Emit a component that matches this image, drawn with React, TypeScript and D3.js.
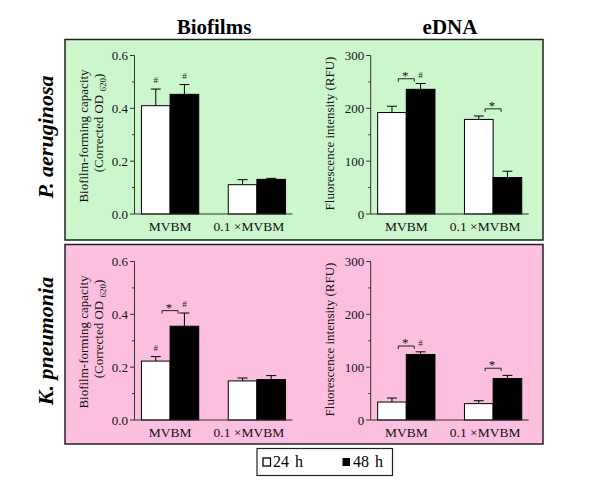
import * as d3 from "d3";

const FONT = "Liberation Serif, DejaVu Serif, Times New Roman, serif";

const groups = ["MVBM", "0.1 ×MVBM"];
const seriesNames = ["24 h", "48 h"];

// P. aeruginosa - biofilms
const paBioMean24 = [0.41, 0.111];
const paBioErr24 = [0.063, 0.019];
const paBioMean48 = [0.453, 0.131];
const paBioErr48 = [0.037, 0.004];
const paBioHash24 = [true, false];
const paBioHash48 = [true, false];
const paBioStar: (number | null)[] = [null, null];

// P. aeruginosa - eDNA
const paDnaMean24 = [192, 179];
const paDnaErr24 = [12, 6.5];
const paDnaMean48 = [236, 69];
const paDnaErr48 = [11, 12];
const paDnaHash24 = [false, false];
const paDnaHash48 = [true, false];
const paDnaStar: (number | null)[] = [256, 199];

// K. pneumonia - biofilms
const kpBioMean24 = [0.223, 0.148];
const kpBioErr24 = [0.017, 0.011];
const kpBioMean48 = [0.355, 0.153];
const kpBioErr48 = [0.05, 0.015];
const kpBioHash24 = [true, false];
const kpBioHash48 = [true, false];
const kpBioStar: (number | null)[] = [0.414, null];

// K. pneumonia - eDNA
const kpDnaMean24 = [34, 31];
const kpDnaErr24 = [7.5, 5.5];
const kpDnaMean48 = [124, 78.5];
const kpDnaErr48 = [5, 6];
const kpDnaHash24 = [false, false];
const kpDnaHash48 = [true, false];
const kpDnaStar: (number | null)[] = [140, 98];

const bioTicks = [0, 0.2, 0.4, 0.6];
const dnaTicks = [0, 100, 200, 300];

type ChartProps = {
  axisX: number;
  zeroY: number;
  ticks: number[];
  fmt: (v: number) => string;
  mean24: number[];
  err24: number[];
  mean48: number[];
  err48: number[];
  hash24: boolean[];
  hash48: boolean[];
  star: (number | null)[];
  kind: "bio" | "dna";
};

function BarChart(p: ChartProps) {
  const h = 158.5;
  const max = p.ticks[p.ticks.length - 1];
  const step = p.ticks[1] - p.ticks[0];
  const y = d3.scaleLinear().domain([0, max]).range([p.zeroY, p.zeroY - h]);
  const x = d3
    .scaleBand()
    .domain(groups)
    .range([p.axisX, p.axisX + 158])
    .paddingInner(0.34)
    .paddingOuter(0.08);
  const sub = d3.scaleBand().domain(seriesNames).range([0, x.bandwidth()]);
  const minor = d3.range(step / 2, max, step);

  const series = [
    { name: seriesNames[0], mean: p.mean24, err: p.err24, hash: p.hash24, fill: "#ffffff" },
    { name: seriesNames[1], mean: p.mean48, err: p.err48, hash: p.hash48, fill: "#000000" },
  ];

  return (
    <g>
      {series.map((s) =>
        groups.map((g, i) => {
          const bx = x(g)! + sub(s.name)!;
          const cx = bx + sub.bandwidth() / 2;
          const top = y(s.err[i] + s.mean[i]);
          return (
            <g key={s.name + g}>
              <line x1={cx} x2={cx} y1={y(s.mean[i])} y2={top} stroke="#000" strokeWidth={1} />
              <line x1={cx - 5} x2={cx + 5} y1={top} y2={top} stroke="#000" strokeWidth={1} />
              <rect
                x={bx}
                y={y(s.mean[i])}
                width={sub.bandwidth()}
                height={p.zeroY - y(s.mean[i])}
                fill={s.fill}
                stroke="#000"
                strokeWidth={1}
              />
              {s.hash[i] && (
                <text x={cx} y={top - 6} fontSize={9} textAnchor="middle" fill="#222">
                  #
                </text>
              )}
            </g>
          );
        })
      )}
      {groups.map((g, i) => {
        const lvl = p.star[i];
        if (lvl == null) return null;
        const cx = x(g)! + x.bandwidth() / 2;
        const by = y(lvl);
        return (
          <g key={"star" + g}>
            <path
              d={`M${cx - 8},${by + 3}V${by}H${cx + 8}V${by + 3}`}
              fill="none"
              stroke="#222"
              strokeWidth={1}
            />
            <text x={cx - 1} y={by + 1} fontSize={13} textAnchor="middle" fill="#111">
              *
            </text>
          </g>
        );
      })}
      {/* axes */}
      <line x1={p.axisX} x2={p.axisX} y1={p.zeroY} y2={p.zeroY - h} stroke="#333" />
      <line x1={p.axisX} x2={p.axisX + 158} y1={p.zeroY} y2={p.zeroY} stroke="#333" />
      {p.ticks.map((t) => (
        <g key={t}>
          <line x1={p.axisX - 4.5} x2={p.axisX} y1={y(t)} y2={y(t)} stroke="#333" />
          <text
            x={p.axisX - 6.5}
            y={y(t)}
            dy="0.35em"
            fontSize={13}
            textAnchor="end"
            fill="#111"
          >
            {p.fmt(t)}
          </text>
        </g>
      ))}
      {minor.map((t) => (
        <line key={t} x1={p.axisX - 2.5} x2={p.axisX} y1={y(t)} y2={y(t)} stroke="#333" />
      ))}
      {groups.map((g, i) => (
        <text
          key={g}
          x={x(g)! + x.bandwidth() / 2}
          dx={i === 1 ? -8 : 0}
          y={p.zeroY + 17}
          fontSize={13.5}
          textAnchor="middle"
          fill="#111"
        >
          {g}
        </text>
      ))}
      {p.kind === "bio" ? (
        <g>
          <text
            transform={`translate(${p.axisX - 47},${p.zeroY - 78}) rotate(-90)`}
            fontSize={13}
            textAnchor="middle"
            fill="#111"
          >
            Biofilm-forming capacity
          </text>
          <text
            transform={`translate(${p.axisX - 32},${p.zeroY - 91}) rotate(-90)`}
            fontSize={13}
            textAnchor="middle"
            fill="#111"
          >
            (Corrected OD{" "}
            <tspan fontSize={9} dy={3}>
              620
            </tspan>
            <tspan dy={-3}>)</tspan>
          </text>
        </g>
      ) : (
        <text
          transform={`translate(${p.axisX - 37},${p.zeroY - 80.5}) rotate(-90)`}
          fontSize={13}
          textAnchor="middle"
          fill="#111"
        >
          Fluorescence intensity (RFU)
        </text>
      )}
    </g>
  );
}

const fmtBio = d3.format(".1f");
const fmtDna = d3.format("d");

export default function App() {
  return (
    <svg
      width={600}
      height={486}
      style={{ position: "absolute", left: 0, top: 0, background: "#fff", fontFamily: FONT }}
    >
      <rect x={65} y={39.5} width={478} height={200.5} fill="#ccf7cc" stroke="#222" strokeWidth={1.5} />
      <rect x={65} y={244.5} width={478} height={199.5} fill="#fdbfe0" stroke="#222" strokeWidth={1.5} />

      <text x={214} y={34} fontSize={21} fontWeight="bold" textAnchor="middle">
        Biofilms
      </text>
      <text x={450} y={34} fontSize={21} fontWeight="bold" textAnchor="middle">
        eDNA
      </text>

      <text
        transform="translate(53,137) rotate(-90)"
        fontSize={22}
        fontWeight="bold"
        fontStyle="italic"
        textAnchor="middle"
      >
        P. aeruginosa
      </text>
      <text
        transform="translate(53,341) rotate(-90)"
        fontSize={22}
        fontWeight="bold"
        fontStyle="italic"
        textAnchor="middle"
      >
        K. pneumonia
      </text>

      <BarChart
        axisX={134.5}
        zeroY={214}
        ticks={bioTicks}
        fmt={fmtBio}
        mean24={paBioMean24}
        err24={paBioErr24}
        mean48={paBioMean48}
        err48={paBioErr48}
        hash24={paBioHash24}
        hash48={paBioHash48}
        star={paBioStar}
        kind="bio"
      />
      <BarChart
        axisX={370.7}
        zeroY={214}
        ticks={dnaTicks}
        fmt={fmtDna}
        mean24={paDnaMean24}
        err24={paDnaErr24}
        mean48={paDnaMean48}
        err48={paDnaErr48}
        hash24={paDnaHash24}
        hash48={paDnaHash48}
        star={paDnaStar}
        kind="dna"
      />
      <BarChart
        axisX={134.5}
        zeroY={420}
        ticks={bioTicks}
        fmt={fmtBio}
        mean24={kpBioMean24}
        err24={kpBioErr24}
        mean48={kpBioMean48}
        err48={kpBioErr48}
        hash24={kpBioHash24}
        hash48={kpBioHash48}
        star={kpBioStar}
        kind="bio"
      />
      <BarChart
        axisX={370.7}
        zeroY={420}
        ticks={dnaTicks}
        fmt={fmtDna}
        mean24={kpDnaMean24}
        err24={kpDnaErr24}
        mean48={kpDnaMean48}
        err48={kpDnaErr48}
        hash24={kpDnaHash24}
        hash48={kpDnaHash48}
        star={kpDnaStar}
        kind="dna"
      />

      {/* legend */}
      <rect x={257} y={448.5} width={135.5} height={27} fill="#fff" stroke="#222" strokeWidth={1.2} />
      <rect x={263} y={458} width={7.5} height={8} fill="#fff" stroke="#000" strokeWidth={1.3} />
      <text x={273} y={466.5} fontSize={16} style={{ wordSpacing: "2px" }}>
        {seriesNames[0]}
      </text>
      <rect x={342.5} y={458} width={7.5} height={8} fill="#000" />
      <text x={353} y={466.5} fontSize={16} style={{ wordSpacing: "2px" }}>
        {seriesNames[1]}
      </text>
    </svg>
  );
}
